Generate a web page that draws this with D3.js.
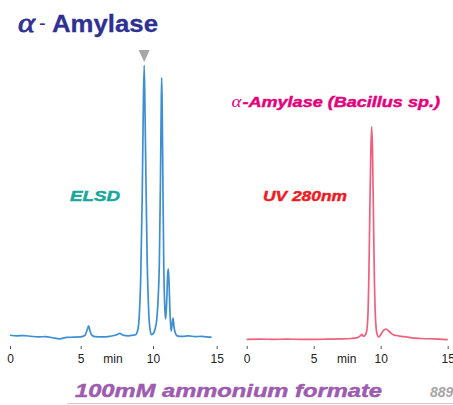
<!DOCTYPE html>
<html>
<head>
<meta charset="utf-8">
<script src="https://d3js.org/d3.v7.min.js"></script>
<style>
body { margin: 0; background: white; }
svg { display: block; font-family: "Liberation Sans", Arial, sans-serif; }
</style>
</head>
<body>
<script>
// ELSD trace (left): [time min, signal %]
var elsdTime = [0, 0.5, 1, 1.5, 2, 2.5, 3, 3.5, 4, 4.5, 5, 5.3, 5.45, 5.55, 5.65, 5.8, 6, 6.5, 7, 7.5, 7.7, 7.9, 8.3, 8.6,
  8.8, 8.95, 9.05, 9.15, 9.25, 9.32, 9.39, 9.45, 9.52, 9.6, 9.7, 9.8, 9.9,
  10.0, 10.15, 10.3, 10.4, 10.5, 10.58, 10.64, 10.68, 10.72, 10.78, 10.85, 10.95, 11.0,
  11.08, 11.15, 11.2, 11.26, 11.33, 11.42, 11.5, 11.57, 11.65, 11.75, 11.9, 12.3, 12.8, 13.3, 13.8, 14.2, 14.6];
var elsdSignal = [1.0, 0.8, 0.9, 0.6, 0.4, 0.5, 0.1, -0.3, 0.2, 0.3, 0.4, 1.0, 3.0, 4.4, 2.5, 0.9, 0.5, 0.4, 0.6, 1.2, 1.7, 1.1, 0.8, 1.0,
  1.2, 3, 8, 22, 50, 80, 99.5, 82, 55, 28, 10, 3, 1.2,
  1.5, 3, 7, 14, 28, 55, 82, 95, 85, 55, 25, 9, 7,
  14, 23, 25.2, 20, 10, 2.5, 5, 7.3, 4, 1.8, 0.8, 0.6, 0.8, 0.5, 0.6, 0.4, 0.3];

// UV 280nm trace (right)
var uvTime = [0, 1, 2, 3, 4, 5, 6, 7, 7.8, 8.2, 8.45, 8.6, 8.7, 8.8, 8.95, 9.05, 9.13, 9.2, 9.27, 9.33, 9.39, 9.46, 9.53, 9.62, 9.72, 9.85,
  10.0, 10.2, 10.4, 10.6, 10.8, 11.0, 11.3, 11.6, 11.9, 12.3, 13, 14, 15];
var uvSignal = [0.3, 0.4, 0.3, 0.4, 0.3, 0.3, 0.4, 0.5, 0.7, 1.0, 1.8, 2.6, 1.8, 2.0, 4, 12, 35, 65, 90, 99.7, 88, 58, 28, 9, 3, 1.4,
  2.5, 4.5, 5.1, 4.2, 3, 2.3, 2.0, 1.6, 1.5, 1.0, 0.7, 0.5, 0.2];

var tickValues = [0, 5, 10, 15];
var markerTime = 9.39;

var width = 453, height = 405;
var svg = d3.select("body").append("svg")
  .attr("width", width)
  .attr("height", height);

// the left x axis in the source is not evenly spaced
var xL = d3.scaleLinear().domain([0, 5, 10, 15]).range([10, 80.7, 153, 216.7]);
var yL = d3.scaleLinear().domain([0, 100]).range([338, 64]);
var xR = d3.scaleLinear().domain([0, 15]).range([246.7, 447.7]);
var yR = d3.scaleLinear().domain([0, 100]).range([340, 126]);

function drawTrace(times, vals, x, y, color) {
  var line = d3.line()
    .x(function(d) { return x(d[0]); })
    .y(function(d) { return y(d[1]); })
    .curve(d3.curveMonotoneX);
  svg.append("path")
    .datum(d3.zip(times, vals))
    .attr("fill", "none")
    .attr("stroke", color)
    .attr("stroke-width", 1.7)
    .attr("d", line);
}
drawTrace(elsdTime, elsdSignal, xL, yL, "#3d8fd4");
drawTrace(uvTime, uvSignal, xR, yR, "#f0607e");

function drawAxis(x, minX) {
  var g = svg.append("g")
    .attr("transform", "translate(0,346)")
    .call(d3.axisBottom(x).tickValues(tickValues).tickSize(3).tickPadding(5.5));
  g.select(".domain").remove();
  g.selectAll("line").attr("stroke", "#555");
  g.selectAll("text").attr("font-size", 12).attr("fill", "#222")
    .attr("font-family", "Liberation Sans, Arial, sans-serif");
  svg.append("text")
    .attr("x", minX).attr("y", 363)
    .attr("text-anchor", "middle")
    .attr("font-size", 12).attr("fill", "#222")
    .text("min");
}
drawAxis(xL, 113);
drawAxis(xR, 346.7);

// marker over first peak
var mx = xL(markerTime);
svg.append("path")
  .attr("d", "M" + (mx - 5.5) + ",50 L" + (mx + 5.5) + ",50 L" + mx + ",62 Z")
  .attr("fill", "#a6a6a6");

// title
svg.append("text").attr("x", 18).attr("y", 32)
  .attr("font-family", "Liberation Serif, serif").attr("font-style", "italic")
  .attr("font-size", 28).attr("fill", "#2e3192")
  .attr("stroke", "#2e3192").attr("stroke-width", 0.8)
  .attr("textLength", 17).attr("lengthAdjust", "spacingAndGlyphs")
  .text("α");
svg.append("text").attr("x", 39).attr("y", 30)
  .attr("font-size", 20).attr("fill", "#2e3192")
  .text("-");
svg.append("text").attr("x", 52).attr("y", 32)
  .attr("font-size", 24).attr("font-weight", "bold").attr("fill", "#2e3192")
  .attr("stroke", "#2e3192").attr("stroke-width", 0.3)
  .attr("textLength", 106).attr("lengthAdjust", "spacingAndGlyphs")
  .text("Amylase");

// labels
function label(x, y, size, len, color, txt) {
  return svg.append("text").attr("x", x).attr("y", y)
    .attr("font-size", size).attr("font-weight", "bold").attr("font-style", "italic")
    .attr("fill", color)
    .attr("stroke", color).attr("stroke-width", 0.45)
    .attr("textLength", len).attr("lengthAdjust", "spacingAndGlyphs")
    .text(txt);
}
label(70, 201, 14.5, 50, "#17a89a", "ELSD");
label(263, 201, 14.5, 84, "#ed1c24", "UV 280nm");

svg.append("text").attr("x", 231.5).attr("y", 106.5)
  .attr("font-family", "Liberation Serif, serif").attr("font-style", "italic")
  .attr("font-size", 17).attr("fill", "#e5007d")
  .attr("textLength", 10).attr("lengthAdjust", "spacingAndGlyphs")
  .text("α");
label(242.5, 106.5, 15, 197.5, "#e5007d", "-Amylase (Bacillus sp.)");

label(75, 396.5, 18.5, 307, "#9d5caf", "100mM ammonium formate");
svg.append("text").attr("x", 430).attr("y", 397)
  .attr("font-size", 14).attr("font-weight", "bold").attr("font-style", "italic")
  .attr("fill", "#a6a6a6")
  .text("889");

svg.append("line")
  .attr("x1", 67).attr("x2", width).attr("y1", 403.5).attr("y2", 403.5)
  .attr("stroke", "#cccccc").attr("stroke-width", 1);
</script>
</body>
</html>
